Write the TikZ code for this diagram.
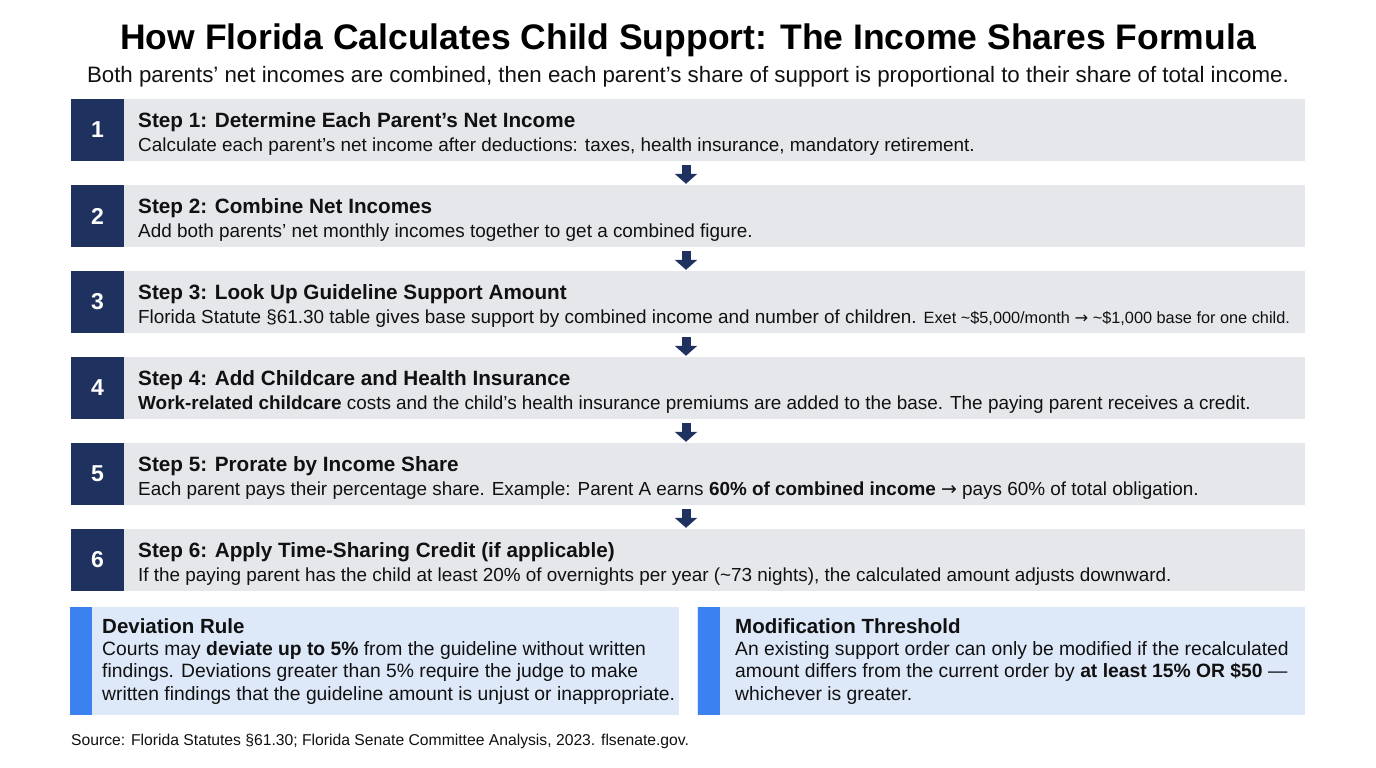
\documentclass[tikz,border=0pt]{standalone}
\usepackage{fontspec}
\setmainfont{Liberation Sans}
\newfontfamily\symfont{DejaVu Sans}
\newcommand{\rarr}{{\symfont →}}
\usetikzlibrary{arrows.meta,calc}
\definecolor{navy}{RGB}{31,50,95}
\definecolor{rowgray}{RGB}{229,231,235}
\definecolor{noteblue}{RGB}{221,232,249}
\definecolor{barblue}{RGB}{59,130,240}
\definecolor{txt}{RGB}{17,17,17}
\tikzset{
  rowbox/.style={fill=rowgray, draw=none, minimum width=1234pt, minimum height=62pt, inner sep=0pt},
  numbox/.style={fill=navy, draw=none, minimum width=53pt, minimum height=62pt, inner sep=0pt, text=white, font=\fontsize{23}{27}\selectfont\bfseries},
  steptitle/.style={anchor=base west, inner sep=0pt, text=txt, font=\fontsize{20.7}{24}\selectfont\bfseries},
  stepdesc/.style={anchor=base west, inner sep=0pt, text=txt, font=\fontsize{18.9}{22}\selectfont},
  flowarrow/.style={draw=navy, line width=9pt, -{Triangle[width=22pt,length=10pt]}},
  notebox/.style={fill=noteblue, draw=none, minimum width=608pt, minimum height=108pt, inner sep=0pt},
  notebar/.style={fill=barblue, draw=none, minimum width=22pt, minimum height=108pt, inner sep=0pt},
  notetitle/.style={anchor=base west, inner sep=0pt, text=txt, font=\fontsize{20.5}{24}\selectfont\bfseries},
  notetext/.style={anchor=north west, inner sep=0pt, text=txt, align=left, font=\fontsize{19.3}{22.5}\selectfont},
}
\begin{document}
\begin{tikzpicture}[x=1pt,y=-1pt]
\useasboundingbox (0,0) rectangle (1376,768);
\fill[white] (0,0) rectangle (1376,768);
% title
\node[anchor=base, inner sep=0pt, text=black, font=\fontsize{35.5}{40}\selectfont\bfseries] (title) at (688,49) {How Florida Calculates Child Support: The Income Shares Formula};
\node[anchor=base, inner sep=0pt, text=txt, font=\fontsize{22.3}{26}\selectfont] (subtitle) at (688,82) {Both parents’ net incomes are combined, then each parent’s share of support is proportional to their share of total income.};
% steps
\foreach \i/\y in {1/130,2/216,3/302,4/388,5/474,6/560}{
  \node[rowbox] (r\i) at (688,\y) {};
  \node[numbox] (n\i) at (97.5,\y) {\i};
}
\node[steptitle] (t1) at (138,127) {Step 1: Determine Each Parent's Net Income};
\node[stepdesc] (d1) at (138,151) {Calculate each parent's net income after deductions: taxes, health insurance, mandatory retirement.};
\node[steptitle] (t2) at (138,213) {Step 2: Combine Net Incomes};
\node[stepdesc] (d2) at (138,237) {Add both parents' net monthly incomes together to get a combined figure.};
\node[steptitle] (t3) at (138,299) {Step 3: Look Up Guideline Support Amount};
\node[stepdesc] (d3) at (138,323) {Florida Statute §61.30 table gives base support by combined income and number of children. {\fontsize{16.3}{19}\selectfont Exet \textasciitilde\$5,000/month \rarr{} \textasciitilde\$1,000 base for one child.}};
\node[steptitle] (t4) at (138,385) {Step 4: Add Childcare and Health Insurance};
\node[stepdesc] (d4) at (138,409) {\textbf{Work-related childcare} costs and the child's health insurance premiums are added to the base. The paying parent receives a credit.};
\node[steptitle] (t5) at (138,471) {Step 5: Prorate by Income Share};
\node[stepdesc] (d5) at (138,495) {Each parent pays their percentage share. Example: Parent A earns \textbf{60\% of combined income} \rarr{} pays 60\% of total obligation.};
\node[steptitle] (t6) at (138,557) {Step 6: Apply Time-Sharing Credit (if applicable)};
\node[stepdesc] (d6) at (138,581) {If the paying parent has the child at least 20\% of overnights per year (\textasciitilde 73 nights), the calculated amount adjusts downward.};
% arrows
\foreach \a/\b in {1/2,2/3,3/4,4/5,5/6}{
  \draw[flowarrow] ($(r\a.south)+(-2,4)$) -- ($(r\b.north)+(-2,-1)$);
}
% notes
\node[notebox] (nl) at (375,661) {};
\node[notebar] (bl) at (81,661) {};
\node[notetitle] (ntl) at (102,633) {Deviation Rule};
\node[notetext] (nxl) at (102,641) {Courts may \textbf{deviate up to 5\%} from the guideline without written\\findings. Deviations greater than 5\% require the judge to make\\written findings that the guideline amount is unjust or inappropriate.};
\node[notebox] (nr) at (1001,661) {};
\node[notebar] (br) at (708.5,661) {};
\node[notetitle] (ntr) at (735,633) {Modification Threshold};
\node[notetext] (nxr) at (735,641) {An existing support order can only be modified if the recalculated\\amount differs from the current order by \textbf{at least 15\% OR \$50} —\\whichever is greater.};
% source
\node[anchor=base west, inner sep=0pt, text=txt, font=\fontsize{15.7}{18}\selectfont] (src) at (71,745) {Source: Florida Statutes §61.30; Florida Senate Committee Analysis, 2023. flsenate.gov.};
\end{tikzpicture}
\end{document}
